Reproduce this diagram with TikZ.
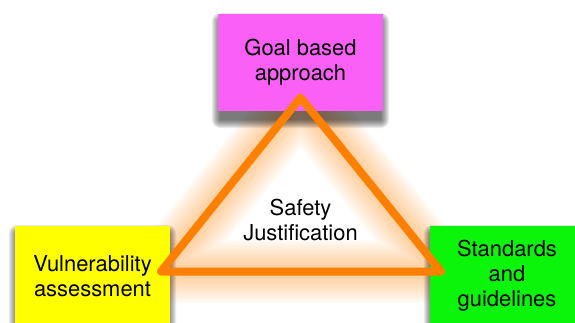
\documentclass[tikz,border=0pt]{standalone}
\usepackage{fontspec}
\setmainfont{TeX Gyre Heros}
\usetikzlibrary{calc}
\definecolor{goalpink}{RGB}{250,96,245}
\definecolor{vulnyellow}{RGB}{255,255,0}
\definecolor{stdgreen}{RGB}{10,245,10}
\definecolor{triorange}{RGB}{255,128,0}
\tikzset{
  box/.style={inner sep=0pt, align=center, font=\fontsize{22}{25}\selectfont},
  label/.style={inner sep=0pt, align=center, font=\fontsize{22}{26}\selectfont},
  edge/.style={draw=triorange, line width=8bp, line join=round},
  glow/.style={draw=triorange, line join=round, opacity=0.03},
}
% soft drop shadow under a named box
\newcommand{\boxshadow}[1]{%
  \foreach \r in {1,...,9}{%
    \fill[black, opacity=0.08, rounded corners=\r bp]
      ($(#1.north west)+(-\r+3,-\r+8)$) rectangle ($(#1.south east)+(\r-3,\r+8)$);
  }%
}
\begin{document}
\begin{tikzpicture}[x=1bp,y=-1bp]
\useasboundingbox (0,0) rectangle (575,322);

% triangle corners
\coordinate (apex) at (300.5,97.5);
\coordinate (left) at (161,271.5);
\coordinate (right) at (441,271.5);

% soft orange glow around the triangle
\begin{scope}[shift={(0,7)}]
  \foreach \w in {64,60,...,8}{
    \draw[glow, line width=\w bp] (apex) -- (left) -- (right) -- cycle;
  }
\end{scope}

% box outlines (placed first so shadows can refer to them)
\path (300.5,62.5) node[box, minimum width=165bp, minimum height=97bp] (goal) {};
\path (92.5,276) node[box, minimum width=155bp, minimum height=100bp] (vuln) {};
\path (507,276) node[box, minimum width=154bp, minimum height=100bp] (std) {};

% shadows
\boxshadow{goal}
\boxshadow{vuln}
\boxshadow{std}

% boxes
\node[box, fill=goalpink, minimum width=165bp, minimum height=97bp] at (goal) {Goal based\\approach};
\node[box, fill=vulnyellow, minimum width=155bp, minimum height=100bp] at (vuln) {Vulnerability\\assessment};
\node[box, fill=stdgreen, minimum width=154bp, minimum height=100bp] at (std) {Standards\\and\\guidelines};

% triangle
\draw[edge] (apex) -- (left) -- (right) -- cycle;

\node[label] (safety) at (300.5,220) {Safety\\Justification};
\end{tikzpicture}
\end{document}
